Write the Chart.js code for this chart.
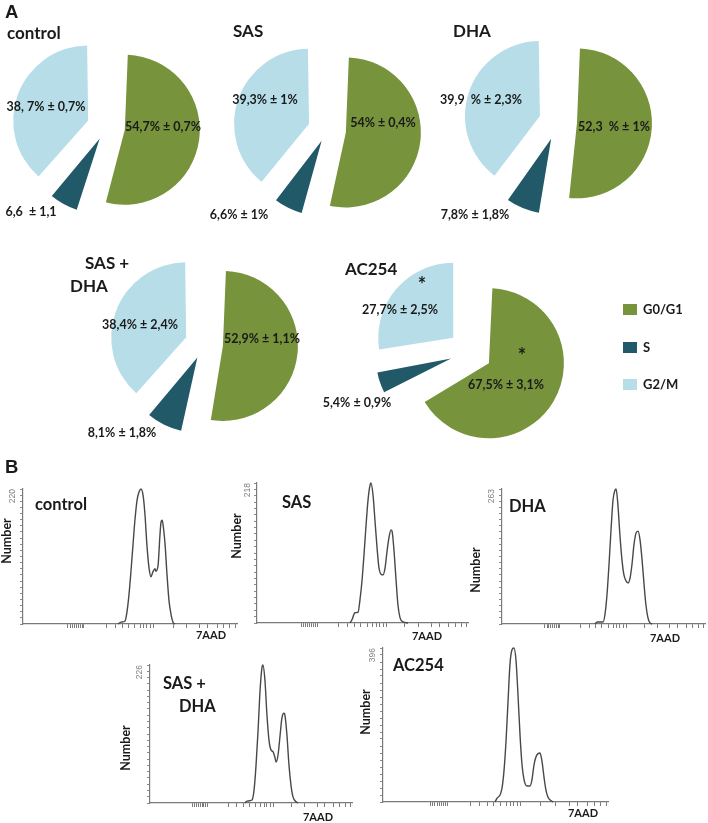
<!DOCTYPE html>
<html><head><meta charset="utf-8">
<script src="https://cdn.jsdelivr.net/npm/chart.js@4.4.1/dist/chart.umd.min.js"></script>
<style>
html,body{margin:0;padding:0;background:#fff;}
body{width:708px;height:823px;overflow:hidden;position:relative;}
canvas{position:absolute;}
.txt{position:absolute;white-space:pre;line-height:1;}
.sw{position:absolute;}
</style></head><body>
<script>
// ---------- DATA ----------
const phases = ['G0/G1', 'S', 'G2/M'];
const phaseColors = ['#77933C', '#215968', '#B7DEE8'];

const controlPct = [54.7, 6.6, 38.7];
const sasPct     = [54, 6.6, 39.3];
const dhaPct     = [52.3, 7.8, 39.9];
const sasDhaPct  = [52.9, 8.1, 38.4];
const ac254Pct   = [67.5, 5.4, 27.7];

const controlLabels = ['54,7% \u00b1 0,7%', '6,6  \u00b1 1,1', '38, 7% \u00b1 0,7%'];
const sasLabels     = ['54% \u00b1 0,4%', '6,6% \u00b1 1%', '39,3% \u00b1 1%'];
const dhaLabels     = ['52,3  % \u00b1 1%', '7,8% \u00b1 1,8%', '39,9  % \u00b1 2,3%'];
const sasDhaLabels  = ['52,9% \u00b1 1,1%', '8,1% \u00b1 1,8%', '38,4% \u00b1 2,4%'];
const ac254Labels   = ['67,5% \u00b1 3,1%', '5,4% \u00b1 0,9%', '27,7% \u00b1 2,5%'];
const ac254Signif   = ['*', '', '*'];

const pieTitles = ['control', 'SAS', 'DHA', 'SAS +\nDHA', 'AC254'];
const histTitles = ['control', 'SAS', 'DHA', 'SAS +\nDHA', 'AC254'];
const yAxisTitle = 'Number';
const xAxisTitle = '7AAD';

// histogram values (x = channel 0..1000, y = count)
const controlHistX = [444, 458, 477, 486, 495, 505, 514, 523, 533, 542, 551, 561, 570, 579, 589, 598, 607, 617, 621, 631, 640, 645, 650, 654, 664, 673, 682, 692, 701, 710];
const controlHistY = [0, 3, 5, 20, 47, 88, 129, 169, 202, 215, 220, 210, 178, 129, 91, 77, 85, 90, 86, 95, 145, 166, 169, 163, 129, 80, 39, 15, 3, 0];
const controlHistMax = 220;

const sasHistX = [441, 450, 464, 479, 488, 498, 507, 517, 526, 536, 540, 550, 559, 569, 578, 588, 597, 607, 616, 626, 635, 640, 649, 659, 668, 678, 692, 716];
const sasHistY = [0, 5, 16, 17, 36, 67, 106, 153, 191, 215, 218, 199, 160, 117, 86, 76, 75, 86, 111, 134, 145, 143, 114, 67, 28, 8, 2, 0];
const sasHistMax = 218;

const dhaHistX = [458, 468, 498, 507, 517, 527, 537, 547, 557, 562, 571, 581, 591, 601, 611, 621, 631, 640, 650, 660, 670, 680, 690, 700, 709, 719, 729, 739];
const dhaHistY = [0, 4, 4, 18, 56, 115, 183, 242, 261, 263, 232, 173, 125, 95, 84, 80, 90, 115, 154, 177, 181, 164, 125, 76, 37, 12, 2, 0];
const dhaHistMax = 263;

const sasDhaHistX = [470, 480, 505, 515, 525, 535, 545, 554, 559, 569, 579, 589, 599, 609, 619, 624, 634, 644, 653, 663, 668, 678, 688, 698, 708, 723, 733];
const sasDhaHistY = [0, 3, 5, 21, 62, 119, 185, 221, 226, 201, 144, 103, 87, 84, 74, 67, 79, 111, 139, 147, 144, 111, 62, 29, 10, 2, 0];
const sasDhaHistMax = 226;

const ac254HistX = [498, 507, 520, 529, 538, 547, 556, 564, 573, 582, 591, 600, 609, 618, 627, 640, 653, 662, 671, 684, 698, 707, 716, 724, 733, 747, 756];
const ac254HistY = [0, 10, 18, 36, 82, 159, 262, 352, 391, 396, 365, 275, 172, 95, 57, 41, 41, 57, 95, 121, 126, 103, 62, 31, 13, 3, 0];
const ac254HistMax = 396;

// x-axis tick positions (channel)
const xTickValues = [210, 222, 231, 240, 249, 258, 267, 276, 285, 388, 430, 463, 491, 523, 547, 565, 579, 598, 612, 701, 766, 827, 864, 907, 939, 967, 995];

// ---------- HELPERS ----------
const TXT = '#1a1a1a';
function placeText(text, left, baseline, font, color) {
  const d = document.createElement('div');
  d.className = 'txt';
  d.style.font = font;
  d.style.color = color || TXT;
  d.style.left = left + 'px';
  d.style.top = '0px';
  d.textContent = text;
  const m = document.createElement('i');
  m.style.cssText = 'display:inline-block;width:0;height:0;vertical-align:baseline';
  d.appendChild(m);
  document.body.appendChild(d);
  d.style.top = (baseline - m.offsetTop) + 'px';
  return d;
}
function addCanvas(l, t, w, h) {
  const c = document.createElement('canvas');
  c.width = w; c.height = h;
  c.style.left = l + 'px'; c.style.top = t + 'px';
  c.style.width = w + 'px'; c.style.height = h + 'px';
  document.body.appendChild(c);
  return c;
}

// ---------- PIES ----------
const PIE_R = 75;
// Chart.js translates an arc by offset/4, so explode distances are given x4
const pies = [
  {pct: controlPct, labels: controlLabels, cx: 106, cy: 127, off: [76, 52, 76], pos: [[57, 0], [-75, 85], [-60, -20]]},
  {pct: sasPct, labels: sasLabels, cx: 326.5, cy: 130, off: [76, 48, 76], pos: [[56, -7], [-88, 85], [-62, -30]]},
  {pct: dhaPct, labels: dhaLabels, cx: 558, cy: 122, off: [76, 72, 76], pos: [[56, 5], [-83, 93], [-77, -22]]},
  {pct: sasDhaPct, labels: sasDhaLabels, cx: 204, cy: 343.5, off: [76, 60, 76], pos: [[58, -5], [-82, 89], [-64, -19]]},
  {pct: ac254Pct, labels: ac254Labels, marks: ac254Signif, cx: 470, cy: 352, off: [88, 80, 88],
   pos: [[36, 33], [-113, 51], [-70, -42]], markPos: [[52, 1], null, [-48, -70]]}
];

function pieLabelPlugin(p) {
  return {
    id: 'pieLabels',
    beforeDatasetsDraw(chart) {
      // keep every exploded slice at the same visual radius
      chart.getDatasetMeta(0).data.forEach(arc => {
        const o = (arc.options.offset || 0) / 4;
        const fix = 1 - Math.sin(Math.min(Math.PI, arc.circumference || 0));
        arc.outerRadius = PIE_R - o * fix;
      });
    },
    afterDatasetsDraw(chart) {
      const arc = chart.getDatasetMeta(0).data[0];
      const cx = arc.x, cy = arc.y;
      const ctx = chart.ctx;
      ctx.save();
      ctx.textAlign = 'center';
      ctx.textBaseline = 'middle';
      ctx.fillStyle = TXT;
      ctx.font = 'bold 12.5px Lato';
      p.labels.forEach((s, i) => ctx.fillText(s, cx + p.pos[i][0], cy + p.pos[i][1]));
      if (p.marks) {
        ctx.font = 'bold 20px Lato';
        p.marks.forEach((s, i) => { if (s) ctx.fillText(s, cx + p.markPos[i][0], cy + p.markPos[i][1] + 4); });
      }
      ctx.restore();
    }
  };
}

pies.forEach(p => {
  const S = 300;
  const c = addCanvas(Math.round(p.cx - S / 2), Math.round(p.cy - S / 2), S, S);
  new Chart(c, {
    type: 'pie',
    data: {labels: phases, datasets: [{data: p.pct, backgroundColor: phaseColors, borderWidth: 0, offset: p.off}]},
    options: {
      responsive: false, animation: false, events: [],
      radius: PIE_R,
      layout: {padding: 0},
      plugins: {legend: {display: false}, tooltip: {enabled: false}}
    },
    plugins: [pieLabelPlugin(p)]
  });
});

// ---------- HISTOGRAMS ----------
const hists = [
  {xs: controlHistX, ys: controlHistY, max: controlHistMax, area: [23, 489, 237, 624], num: [-16, 52], mx: -10, aad: [188, 11]},
  {xs: sasHistX, ys: sasHistY, max: sasHistMax, area: [257, 483, 468, 623], num: [-20, 53], mx: -9, aad: [170, 13]},
  {xs: dhaHistX, ys: dhaHistY, max: dhaHistMax, area: [502, 489, 705, 624], num: [-26, 81], mx: -10, aad: [163, 14]},
  {xs: sasDhaHistX, ys: sasDhaHistY, max: sasDhaHistMax, area: [150, 665, 352, 803], num: [-24, 83], mx: -10, aad: [168, 14]},
  {xs: ac254HistX, ys: ac254HistY, max: ac254HistMax, area: [383, 648, 608, 802], num: [-17, 64], mx: -10, aad: [200, 11]}
];

function histTextPlugin(h) {
  return {
    id: 'histText',
    afterDraw(chart) {
      const a = chart.chartArea, ctx = chart.ctx;
      ctx.save();
      ctx.fillStyle = TXT;
      ctx.translate(a.left + h.num[0], a.top + h.num[1]);
      ctx.rotate(-Math.PI / 2);
      ctx.font = 'bold 12.5px Lato';
      ctx.textAlign = 'center'; ctx.textBaseline = 'middle';
      ctx.fillText(yAxisTitle, 0, 0);
      ctx.restore();

      ctx.save();
      ctx.fillStyle = '#808080';
      ctx.translate(a.left + h.mx, a.top);
      ctx.rotate(-Math.PI / 2);
      ctx.font = '8.5px "Liberation Sans"';
      ctx.textAlign = 'right'; ctx.textBaseline = 'middle';
      ctx.fillText(String(h.max), 0, 0);
      ctx.restore();

      ctx.save();
      ctx.fillStyle = TXT;
      ctx.font = 'bold 11px Lato';
      ctx.textAlign = 'center'; ctx.textBaseline = 'middle';
      ctx.fillText(xAxisTitle, a.left + h.aad[0], a.bottom + h.aad[1]);
      ctx.restore();
    }
  };
}

hists.forEach(h => {
  const [l, t, r, b] = h.area;
  const ML = 40, MT = 20, MR = 5, MB = 30;
  const c = addCanvas(l - ML, t - MT, (r - l) + ML + MR, (b - t) + MT + MB);
  const maxV = h.max;
  new Chart(c, {
    type: 'line',
    data: {datasets: [{
      data: h.xs.map((x, i) => ({x: x, y: h.ys[i]})),
      borderColor: '#484848', borderWidth: 1.4, pointRadius: 0, fill: false,
      cubicInterpolationMode: 'monotone', clip: false
    }]},
    options: {
      responsive: false, animation: false, events: [],
      layout: {padding: {left: ML - 5, top: MT, right: MR, bottom: MB - 5}, autoPadding: false},
      scales: {
        x: {
          type: 'linear', min: 0, max: 1000,
          afterFit: s => { s.height = 5; },
          afterBuildTicks: s => { s.ticks = xTickValues.map(v => ({value: v})); },
          ticks: {display: false},
          grid: {drawOnChartArea: false, drawTicks: true, tickLength: 4, color: '#7a7a7a', lineWidth: 1},
          border: {color: '#7a7a7a', width: 1.2}
        },
        y: {
          type: 'linear', min: 0, max: maxV,
          afterFit: s => { s.width = 5; },
          afterBuildTicks: s => { const arr = []; for (let i = 0; i <= 22; i++) arr.push({value: maxV * i / 22}); s.ticks = arr; },
          ticks: {display: false},
          grid: {drawOnChartArea: false, drawTicks: true, tickLength: 3, color: '#8a8a8a', lineWidth: 1},
          border: {color: '#7a7a7a', width: 1.2}
        }
      },
      plugins: {legend: {display: false}, tooltip: {enabled: false}}
    },
    plugins: [histTextPlugin(h)]
  });
});

// ---------- TEXT: panel letters, titles, legend ----------
placeText('A', 5, 18, 'bold 18.5px "Liberation Sans"');
placeText('B', 5, 473, 'bold 18.5px "Liberation Sans"');

const PT = 'bold 17px Lato';
placeText(pieTitles[0], 7, 39, PT);
placeText(pieTitles[1], 233, 37, PT);
placeText(pieTitles[2], 453, 37, PT);
placeText(pieTitles[3].split('\n')[0], 85, 269, PT);
placeText(pieTitles[3].split('\n')[1], 70, 292, PT);
placeText(pieTitles[4], 345, 275, PT);

const HT = 'bold 16.5px Lato';
placeText(histTitles[0], 35, 510, HT);
placeText(histTitles[1], 282, 508, HT);
placeText(histTitles[2], 509, 512, HT);
placeText(histTitles[3].split('\n')[0], 163, 689, HT);
placeText(histTitles[3].split('\n')[1], 179, 712, HT);
placeText(histTitles[4], 393, 671, HT);

const legendBase = [314, 352, 389];
phases.forEach((name, i) => {
  const sw = document.createElement('div');
  sw.className = 'sw';
  sw.style.cssText = `left:623px;top:${legendBase[i] - 10}px;width:14px;height:11px;background:${phaseColors[i]}`;
  document.body.appendChild(sw);
  placeText(name, 643, legendBase[i], 'bold 13px Lato');
});
</script>
</body></html>
